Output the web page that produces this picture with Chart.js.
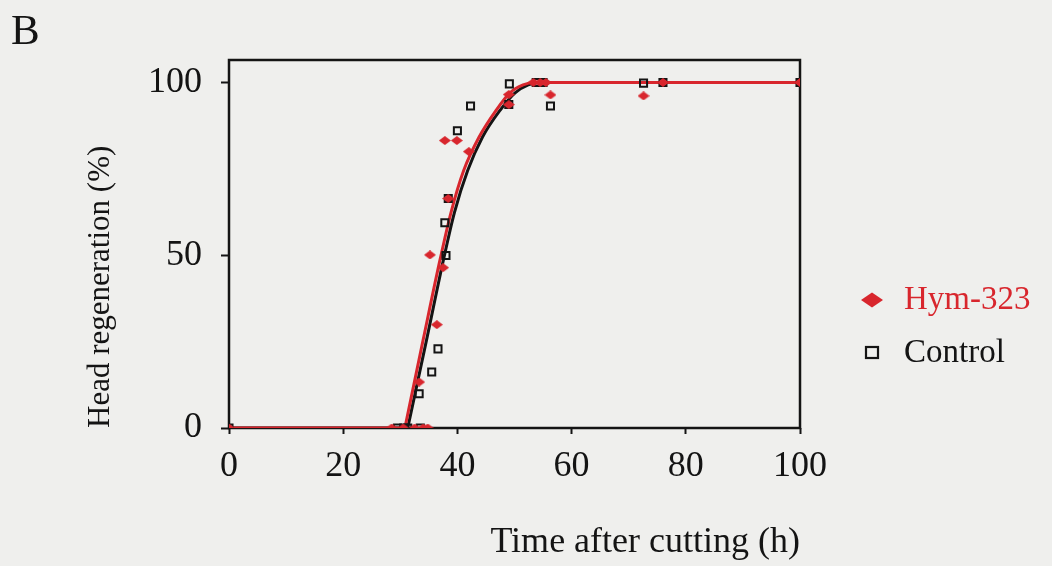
<!DOCTYPE html>
<html>
<head>
<meta charset="utf-8">
<script src="https://cdn.jsdelivr.net/npm/chart.js@4.4.1/dist/chart.umd.min.js"></script>
<style>
  html, body { margin: 0; padding: 0; background: #efefed; }
  #wrap { position: relative; width: 1052px; height: 566px; }
</style>
</head>
<body>
<div id="wrap"><canvas id="chart" width="1052" height="566"></canvas></div>
<script>
const xTicks = [0, 20, 40, 60, 80, 100];
const yTicks = [0, 50, 100];

// Hym-323 measurements (red diamonds)
const hymX = [0, 28.5, 30.5, 32.5, 34.0, 34.8, 33.3, 36.4, 35.2, 37.5, 38.4, 37.8, 39.9, 42.0, 49.0, 49.0, 53.3, 54.5, 55.5, 56.3, 72.6, 76.0, 100];
const hymY = [0, 0, 0, 0, 0, 0, 13.3, 29.9, 50.1, 46.4, 66.4, 83.2, 83.2, 80.0, 96.5, 93.6, 100, 100, 100, 96.4, 96.1, 100, 100];

// Control measurements (open squares)
const ctrlX = [0, 29.5, 30.6, 31.3, 33.5, 33.3, 35.5, 36.6, 38.0, 37.8, 38.4, 40.0, 42.3, 49.1, 49.0, 53.8, 55.0, 56.3, 72.6, 76.0, 100];
const ctrlY = [0, 0, 0, 0, 0, 9.9, 16.2, 22.9, 49.9, 59.4, 66.4, 86.0, 93.2, 99.6, 93.6, 100, 100, 93.2, 99.8, 100, 100];

// fitted curves
const hymFitX = [0, 30.8, 34.0, 37.0, 38.9, 41.1, 43.8, 46.8, 49.2, 51.5, 53.5, 100];
const hymFitY = [0, 0, 25.5, 49.0, 62.5, 74.5, 84.2, 92.0, 97.0, 99.3, 100, 100];
const ctrlFitX = [0, 31.3, 34.6, 37.6, 39.5, 41.8, 44.4, 47.5, 50.1, 52.4, 54.5, 100];
const ctrlFitY = [0, 0, 25.5, 49.0, 62.5, 74.5, 84.2, 92.0, 97.0, 99.3, 100, 100];

const RED = '#d8262d';
const INK = '#141414';
const SERIF = '"Liberation Serif", "Times New Roman", serif';

function pairs(xs, ys) {
  return xs.map((x, i) => ({ x: x, y: ys[i] }));
}

function makeDiamond(w, h, color) {
  const c = document.createElement('canvas');
  c.width = w;
  c.height = h;
  const g = c.getContext('2d');
  g.fillStyle = color;
  g.beginPath();
  g.moveTo(w / 2, 0);
  g.lineTo(w, h / 2);
  g.lineTo(w / 2, h);
  g.lineTo(0, h / 2);
  g.closePath();
  g.fill();
  return c;
}

// fit = flat baseline up to the onset, then a smooth rise
function fitDatasets(xs, ys, color, label) {
  const pts = pairs(xs, ys);
  return [
    {
      label: label + ' (rise)',
      data: pts.slice(1),
      showLine: true,
      borderColor: color,
      borderWidth: 3,
      pointRadius: 0,
      cubicInterpolationMode: 'monotone'
    },
    {
      label: label + ' (baseline)',
      data: pts.slice(0, 2),
      showLine: true,
      borderColor: color,
      borderWidth: 3,
      pointRadius: 0
    }
  ];
}

const diamond = makeDiamond(12, 9, RED);

// black frame round the plot area
const framePlugin = {
  id: 'frame',
  beforeDatasetsDraw(chart) {
    const a = chart.chartArea;
    const ctx = chart.ctx;
    ctx.save();
    ctx.strokeStyle = INK;
    ctx.lineWidth = 2.5;
    ctx.strokeRect(a.left, a.top, a.right - a.left, a.bottom - a.top);
    ctx.restore();
  }
};

// panel letter and the legend on the right
const extrasPlugin = {
  id: 'extras',
  afterDraw(chart) {
    const ctx = chart.ctx;
    ctx.save();
    ctx.fillStyle = INK;
    ctx.font = '43px ' + SERIF;
    ctx.textBaseline = 'alphabetic';
    ctx.fillText('B', 11, 44);

    ctx.font = '33px ' + SERIF;
    ctx.textBaseline = 'middle';

    // Hym-323
    ctx.fillStyle = RED;
    ctx.beginPath();
    ctx.moveTo(861, 300);
    ctx.lineTo(872, 292.5);
    ctx.lineTo(883, 300);
    ctx.lineTo(872, 307.5);
    ctx.closePath();
    ctx.fill();
    ctx.fillText('Hym-323', 904, 300);

    // Control
    ctx.strokeStyle = INK;
    ctx.lineWidth = 2.2;
    ctx.strokeRect(866, 347, 12, 11);
    ctx.fillStyle = INK;
    ctx.fillText('Control', 904, 353);
    ctx.restore();
  }
};

new Chart(document.getElementById('chart'), {
  type: 'scatter',
  data: {
    datasets: [
      {
        label: 'Hym-323',
        data: pairs(hymX, hymY),
        pointStyle: diamond,
        pointRadius: 5,
        showLine: false
      },
      {
        label: 'Control',
        data: pairs(ctrlX, ctrlY),
        pointStyle: 'rect',
        pointRadius: 5,
        borderColor: INK,
        borderWidth: 2,
        backgroundColor: 'rgba(0,0,0,0)',
        showLine: false
      },
      ...fitDatasets(hymFitX, hymFitY, RED, 'Hym-323 fit'),
      ...fitDatasets(ctrlFitX, ctrlFitY, INK, 'Control fit')
    ]
  },
  options: {
    responsive: false,
    animation: false,
    layout: {
      padding: { left: 0, top: 60, right: 252, bottom: 0 }
    },
    scales: {
      x: {
        type: 'linear',
        min: 0,
        max: 100,
        afterBuildTicks: s => { s.ticks = xTicks.map(v => ({ value: v })); },
        afterFit: s => { s.height = 138; },
        border: { display: false },
        grid: {
          drawOnChartArea: false,
          drawTicks: true,
          tickLength: 6,
          tickWidth: 2,
          color: INK
        },
        ticks: {
          padding: 11,
          color: INK,
          maxRotation: 0,
          font: { family: SERIF, size: 36 }
        },
        title: {
          display: true,
          text: 'Time after cutting (h)',
          align: 'end',
          color: INK,
          font: { family: SERIF, size: 36 },
          padding: { top: 0, bottom: 2 }
        }
      },
      y: {
        type: 'linear',
        min: 0,
        max: 106.5,
        afterBuildTicks: s => { s.ticks = yTicks.map(v => ({ value: v })); },
        afterFit: s => { s.width = 229; },
        border: { display: false },
        grid: {
          drawOnChartArea: false,
          drawTicks: true,
          tickLength: 8,
          tickWidth: 2,
          color: INK
        },
        ticks: {
          padding: 19,
          color: INK,
          font: { family: SERIF, size: 36 }
        },
        title: {
          display: true,
          text: 'Head regeneration (%)',
          align: 'start',
          color: INK,
          font: { family: SERIF, size: 31 },
          padding: { top: 82, bottom: 0 }
        }
      }
    },
    plugins: {
      legend: { display: false },
      tooltip: { enabled: false }
    }
  },
  plugins: [framePlugin, extrasPlugin]
});
</script>
</body>
</html>
